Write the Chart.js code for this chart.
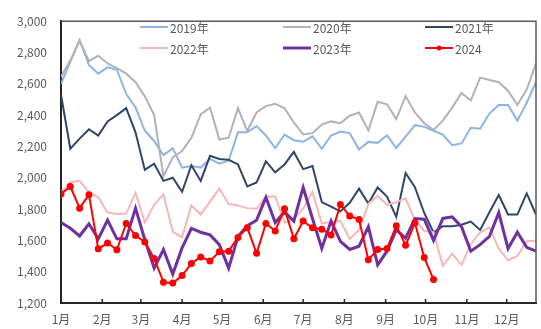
<!DOCTYPE html>
<html>
<head>
<meta charset="utf-8">
<script src="https://cdn.jsdelivr.net/npm/chart.js@4.4.1/dist/chart.umd.min.js"></script>
<style>
  html, body { margin: 0; padding: 0; background: #fff; }
</style>
</head>
<body>
<canvas id="myChart" width="541" height="329"></canvas>
<script>
// 月份刻度（以年内天数计）
const monthDays = [0, 31, 60, 91, 121, 152, 182, 213, 244, 274, 305, 335];
const monthLabels = ['1月', '2月', '3月', '4月', '5月', '6月', '7月', '8月', '9月', '10月', '11月', '12月'];

// 周度数据，第 i 周
const y2019 = [2600, 2740, 2880, 2720, 2665, 2705, 2690, 2535, 2450, 2300, 2235, 2145, 2188, 2065, 2075, 2065, 2120, 2090, 2110, 2290, 2290, 2330, 2270, 2190, 2275, 2240, 2230, 2265, 2185, 2270, 2295, 2285, 2180, 2229, 2223, 2271, 2190, 2262, 2336, 2325, 2300, 2275, 2208, 2219, 2319, 2313, 2410, 2465, 2465, 2365, 2479, 2610];
const y2020 = [2645, 2750, 2875, 2745, 2780, 2730, 2700, 2665, 2610, 2520, 2400, 2010, 2130, 2170, 2255, 2405, 2448, 2244, 2256, 2444, 2300, 2417, 2458, 2473, 2444, 2354, 2277, 2285, 2340, 2360, 2348, 2396, 2417, 2302, 2485, 2469, 2375, 2521, 2417, 2348, 2306, 2365, 2448, 2542, 2494, 2640, 2625, 2610, 2556, 2465, 2563, 2729];
const y2021 = [2530, 2185, 2250, 2310, 2270, 2360, 2400, 2445, 2290, 2050, 2090, 1980, 2000, 1910, 2080, 1980, 2140, 2120, 2115, 2085, 1945, 1970, 2105, 2035, 2085, 2165, 2055, 2075, 1845, 1815, 1785, 1840, 1930, 1835, 1938, 1880, 1750, 2030, 1940, 1775, 1650, 1690, 1690, 1700, 1720, 1667, 1780, 1890, 1765, 1765, 1900, 1765];
const y2022 = [1905, 1972, 1980, 1906, 1875, 1778, 1768, 1771, 1904, 1714, 1827, 1894, 1656, 1619, 1823, 1765, 1848, 1931, 1833, 1823, 1806, 1802, 1879, 1881, 1714, 1735, 1802, 1910, 1708, 1719, 1723, 1610, 1667, 1833, 1885, 1827, 1844, 1869, 1729, 1660, 1652, 1438, 1515, 1444, 1577, 1652, 1681, 1548, 1473, 1500, 1594, 1598];
const y2023 = [1714, 1677, 1628, 1706, 1610, 1729, 1610, 1610, 1806, 1604, 1423, 1542, 1385, 1552, 1677, 1652, 1635, 1573, 1423, 1625, 1694, 1729, 1875, 1714, 1781, 1723, 1938, 1740, 1548, 1723, 1594, 1542, 1563, 1688, 1444, 1531, 1667, 1615, 1740, 1735, 1600, 1740, 1750, 1688, 1531, 1573, 1625, 1777, 1548, 1652, 1556, 1531];
const y2024 = [1896, 1944, 1806, 1892, 1546, 1583, 1540, 1708, 1631, 1590, 1485, 1333, 1327, 1375, 1452, 1494, 1469, 1527, 1531, 1619, 1681, 1517, 1708, 1660, 1802, 1610, 1723, 1681, 1671, 1635, 1829, 1756, 1733, 1477, 1542, 1548, 1694, 1569, 1712, 1490, 1350];

const toPoints = arr => arr.map((v, i) => ({ x: i * 7, y: v }));

const series = [
    { label: '2019年', data: y2019, color: '#8db4e2', width: 2 },
    { label: '2020年', data: y2020, color: '#b1b1bb', width: 2 },
    { label: '2021年', data: y2021, color: '#2f4668', width: 2 },
    { label: '2022年', data: y2022, color: '#f5b7b7', width: 2 },
    { label: '2023年', data: y2023, color: '#7030a0', width: 3 },
    { label: '2024', data: y2024, color: '#ff0000', width: 2, marker: true },
];

const axisFont = { family: '"Noto Sans CJK SC", "Noto Sans", sans-serif', size: 12 };

// 图内图例，三列两行
const insideLegend = {
    id: 'insideLegend',
    afterDraw(chart) {
        const ctx = chart.ctx;
        const cols = [140, 283, 425];
        const rows = [27, 48];
        ctx.save();
        ctx.font = '12px "Noto Sans CJK SC", "Noto Sans", sans-serif';
        ctx.textBaseline = 'middle';
        chart.data.datasets.forEach((ds, k) => {
            const x = cols[k % 3];
            const y = rows[Math.floor(k / 3)];
            ctx.strokeStyle = ds.borderColor;
            ctx.lineWidth = ds.borderWidth;
            ctx.beginPath();
            ctx.moveTo(x, y);
            ctx.lineTo(x + 28, y);
            ctx.stroke();
            if (ds.pointRadius > 0) {
                ctx.fillStyle = ds.borderColor;
                ctx.beginPath();
                ctx.arc(x + 14, y, 2.5, 0, Math.PI * 2);
                ctx.fill();
            }
            ctx.fillStyle = '#595959';
            ctx.fillText(ds.label, x + 30, y + 1);
        });
        ctx.restore();
    }
};

// 外框和向内的月份刻度
const frame = {
    id: 'frame',
    afterDraw(chart) {
        const { ctx, chartArea: a } = chart;
        const xs = chart.scales.x;
        ctx.save();
        ctx.strokeStyle = '#595959';
        ctx.lineWidth = 1.5;
        ctx.beginPath();
        ctx.moveTo(a.left, a.top);
        ctx.lineTo(a.right, a.top);
        ctx.lineTo(a.right, a.bottom);
        ctx.stroke();
        ctx.strokeStyle = '#262626';
        ctx.lineWidth = 1.5;
        xs.ticks.forEach(t => {
            const px = xs.getPixelForValue(t.value);
            ctx.beginPath();
            ctx.moveTo(px, a.bottom);
            ctx.lineTo(px, a.bottom - 4);
            ctx.stroke();
        });
        ctx.restore();
    }
};

const config = {
    type: 'line',
    data: {
        datasets: series.map((s, k) => ({
            label: s.label,
            data: toPoints(s.data),
            borderColor: s.color,
            backgroundColor: s.color,
            borderWidth: s.width,
            pointRadius: s.marker ? 2.5 : 0,
            pointHoverRadius: s.marker ? 2.5 : 0,
            tension: 0,
            fill: false,
            order: series.length - k,
        }))
    },
    options: {
        responsive: false,
        animation: false,
        devicePixelRatio: 1,
        layout: { padding: { top: 15, right: 5, left: 0, bottom: 0 } },
        scales: {
            x: {
                type: 'linear',
                min: 0,
                max: 357,
                afterBuildTicks: scale => {
                    scale.ticks = monthDays.map(v => ({ value: v }));
                },
                afterFit: scale => { scale.height = 26; },
                grid: { display: false, drawTicks: false },
                border: { color: '#262626', width: 2 },
                ticks: {
                    autoSkip: false,
                    maxRotation: 0,
                    padding: 9,
                    color: '#595959',
                    font: axisFont,
                    callback: v => monthLabels[monthDays.indexOf(v)],
                },
            },
            y: {
                min: 1200,
                max: 3000,
                afterFit: scale => { scale.width = 61; },
                grid: { display: false, drawTicks: false },
                border: { color: '#262626', width: 2 },
                ticks: {
                    stepSize: 200,
                    padding: 14,
                    color: '#595959',
                    font: axisFont,
                    callback: v => v.toLocaleString('en-US'),
                },
            },
        },
        plugins: {
            legend: { display: false },
            tooltip: { enabled: false },
        },
    },
    plugins: [frame, insideLegend],
};

new Chart(document.getElementById('myChart'), config);
</script>
</body>
</html>
